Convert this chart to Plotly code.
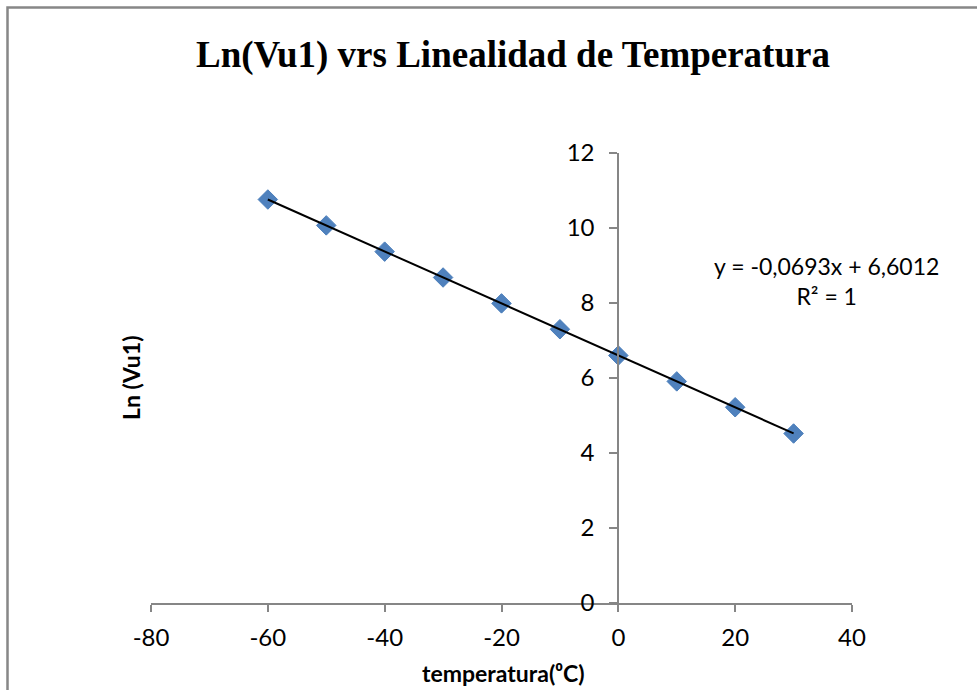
import numpy as np
import plotly.graph_objects as go

# Data
temperatura = [-60, -50, -40, -30, -20, -10, 0, 10, 20, 30]
ln_vu1 = [10.76, 10.07, 9.37, 8.68, 7.99, 7.30, 6.60, 5.91, 5.22, 4.52]

x_ticks = [-80, -60, -40, -20, 0, 20, 40]
x_tick_labels = ["-80", "-60", "-40", "-20", "0", "20", "40"]
y_ticks = [0, 2, 4, 6, 8, 10, 12]
y_tick_labels = ["0", "2", "4", "6", "8", "10", "12"]

title_text = "Ln(Vu1) vrs Linealidad de Temperatura"
x_title = "temperatura(⁰C)"
y_title = "Ln (Vu1)"
eq_text = "y = -0,0693x + 6,6012<br>R² = 1"

# Linear trendline
slope, intercept = np.polyfit(temperatura, ln_vu1, 1)
tx = np.array([min(temperatura), max(temperatura)])
ty = slope * tx + intercept

axis_color = "#868686"
sans = "Lato, Carlito, sans-serif"
tick_font = dict(family=sans, size=24, color="#000000")

fig = go.Figure()
fig.add_trace(go.Scatter(
    x=temperatura, y=ln_vu1, mode="markers",
    marker=dict(symbol="diamond", size=15, color="#4F81BD",
                line=dict(color="#4A7EBB", width=1)),
    showlegend=False, hoverinfo="x+y"))
fig.add_trace(go.Scatter(
    x=tx, y=ty, mode="lines",
    line=dict(color="#000000", width=2),
    showlegend=False, hoverinfo="skip"))

x_min, x_max = -80, 40
y_pos = (0 - x_min) / (x_max - x_min)

fig.update_layout(
    width=977, height=690,
    margin=dict(l=151, r=125, t=153, b=87),
    paper_bgcolor="white", plot_bgcolor="white",
    xaxis=dict(range=[x_min, x_max], tickvals=x_ticks, ticktext=x_tick_labels,
               showgrid=False, zeroline=False, showline=True,
               linecolor=axis_color, linewidth=2,
               ticks="outside", ticklen=7, tickwidth=2, tickcolor=axis_color,
               ticklabelstandoff=5, tickfont=tick_font),
    yaxis=dict(range=[0, 12], tickvals=y_ticks, ticktext=y_tick_labels,
               showgrid=False, zeroline=False,
               showline=True, linecolor=axis_color, linewidth=2,
               anchor="free", position=y_pos,
               ticks="outside", ticklen=8, tickwidth=2, tickcolor=axis_color,
               ticklabelstandoff=10, tickfont=tick_font),
    title=dict(text="<b>" + title_text + "</b>", x=(513 - 151) / 701,
               xanchor="center", xref="paper", y=0.922, yanchor="middle",
               font=dict(family="Liberation Serif, Times New Roman, serif",
                         size=37, color="#000000")),
    showlegend=False,
)

# Chart border (Excel chart area frame)
fig.add_shape(type="rect", xref="paper", yref="paper",
              x0=(7.5 - 151) / 701, x1=1.4, y0=-0.4, y1=(603 - 7.5) / 450,
              line=dict(color="#878787", width=2.5), fillcolor="rgba(0,0,0,0)",
              layer="below")

fig.add_annotation(text="<b>" + x_title + "</b>", xref="paper", yref="paper",
                   x=(503 - 151) / 701, y=(603 - 673) / 450, showarrow=False,
                   xanchor="center", yanchor="middle",
                   font=dict(family=sans, size=23, color="#000000"))
fig.add_annotation(text="<b>" + y_title + "</b>", xref="paper", yref="paper",
                   x=(131 - 151) / 701, y=(603 - 378) / 450, showarrow=False,
                   textangle=-90, xanchor="center", yanchor="middle",
                   font=dict(family=sans, size=23, color="#000000"))
fig.add_annotation(text=eq_text, xref="paper", yref="paper",
                   x=(826 - 151) / 701, y=(603 - 281) / 450, showarrow=False,
                   xanchor="center", yanchor="middle", align="center",
                   font=dict(family=sans, size=23, color="#000000"))

fig.write_html("out.html")
